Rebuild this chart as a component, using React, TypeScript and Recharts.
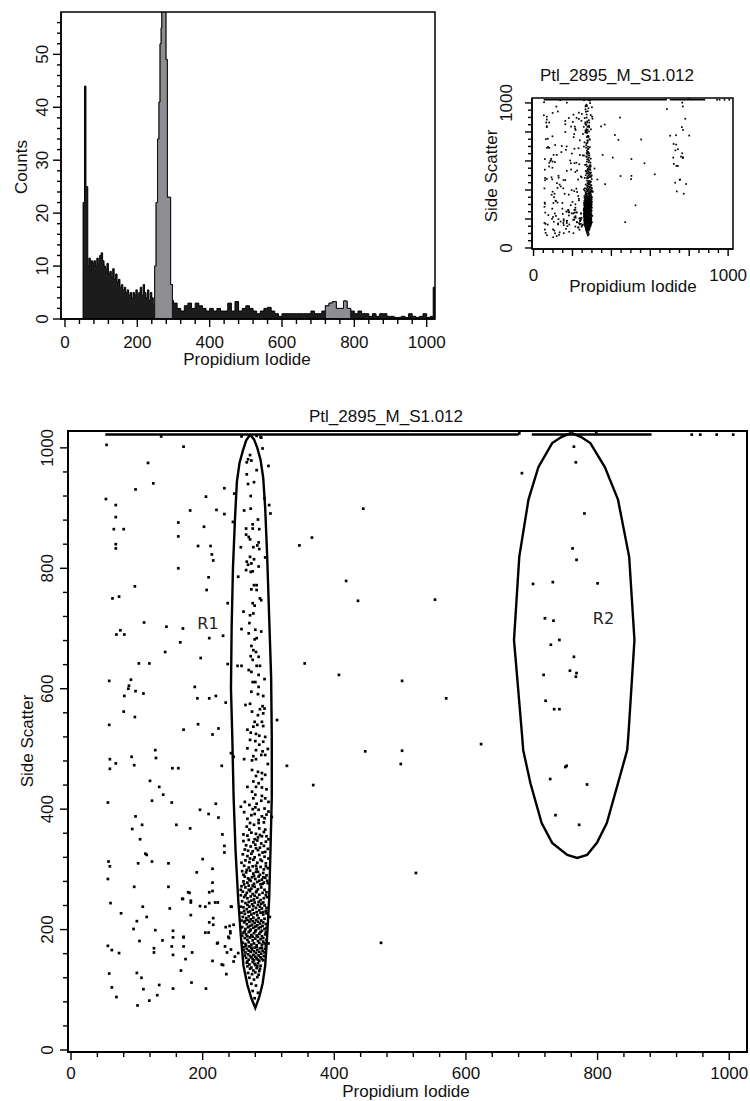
import React from 'react'
import {
  ComposedChart,
  Area,
  ScatterChart,
  Scatter,
  XAxis,
  YAxis,
  ReferenceArea,
  ReferenceLine,
  Label
} from 'recharts'

// ---------- histogram: Counts vs Propidium Iodide ----------
// bin start channel (step histogram, each bin runs to the next start)
const histBinStart = [
  0, 50, 54, 58, 63, 66, 70, 73, 76, 80,
  84, 88, 92, 96, 100, 104, 108, 112, 116, 120,
  124, 128, 132, 136, 140, 144, 148, 152, 156, 160,
  164, 168, 172, 176, 180, 184, 188, 192, 196, 200,
  204, 208, 212, 216, 220, 224, 228, 232, 236, 240,
  244, 248, 252, 256, 260, 263, 266, 268, 279, 283,
  292, 297, 300, 310, 320, 330, 340, 350, 360, 370,
  380, 390, 400, 410, 420, 430, 440, 450, 460, 470,
  480, 490, 500, 510, 520, 530, 540, 550, 560, 570,
  580, 590, 600, 610, 620, 630, 640, 650, 660, 670,
  680, 690, 700, 710, 720, 730, 740, 750, 760, 770,
  780, 790, 800, 810, 820, 830, 840, 850, 860, 870,
  880, 890, 900, 910, 920, 930, 940, 950, 960, 970,
  980, 990, 1000, 1010, 1018, 1023
]
const histCounts = [
  0, 22, 44, 25, 10, 11.5, 9, 11, 10.5, 11,
  10, 11.5, 10.5, 12, 12.5, 11, 10, 9.5, 10.5, 8.5,
  9, 8, 9.5, 7.5, 8.5, 7, 7.5, 6, 6.5, 5.5,
  6, 5, 5.5, 4.5, 5, 4, 5, 4.5, 5.5, 4.5,
  5, 6, 4.5, 6.5, 5, 4, 5.5, 3.5, 5, 4,
  2.5, 10, 22, 34, 41, 52, 55, 64, 49, 23,
  6.5, 3.5, 3, 2, 1.5, 2.5, 3, 2, 3, 2.5,
  2, 1.5, 2, 1.5, 2, 1.5, 1.5, 3, 1.5, 3.3,
  1.5, 2, 2.5, 2, 1.5, 1, 1.5, 2, 2.2, 1.5,
  1, 0.5, 1, 1, 1, 1, 1, 1, 1, 1,
  1.5, 1, 1, 1.5, 2.5, 3, 3.3, 2, 2, 3.4,
  2, 1.5, 1, 1.5, 1, 1, 0.5, 1, 0.5, 1,
  1, 0.5, 0.5, 0.3, 0.3, 0.5, 0.3, 1, 0.5, 0.3,
  0.5, 1, 0.3, 0.5, 6, 0
]
// gated regions (R1, R2) shown grey in the histogram
const histGates: [number, number][] = [[248, 297], [720, 790]]

const histXTicks = Array.from({ length: 26 }, (_, i) => i * 40)
const histYTicks = Array.from({ length: 29 }, (_, i) => i * 2)
const histXLabels = [0, 200, 400, 600, 800, 1000]
const histYLabels = [0, 10, 20, 30, 40, 50]

// ---------- scatter: Side Scatter vs Propidium Iodide ----------
const leftEvents: [number, number][] = [
  [54, 1005], [137, 1019], [171, 1002], [117, 975], [125, 941], [98, 931], [53, 915], [68, 905],
  [68, 885], [65, 865], [80, 865], [68, 840], [68, 833], [163, 876], [163, 853], [163, 800],
  [181, 896], [202, 869], [205, 919], [221, 897], [233, 890], [233, 933], [248, 924], [246, 877],
  [193, 837], [212, 837], [214, 823], [216, 813], [209, 785], [206, 764], [238, 742], [97, 770],
  [63, 750], [73, 753], [111, 710], [145, 703], [170, 700], [69, 690], [75, 697], [81, 690],
  [210, 684], [231, 688], [166, 677], [143, 661], [103, 642], [119, 642], [197, 651], [238, 641],
  [58, 613], [91, 615], [88, 605], [87, 600], [81, 588], [98, 596], [110, 592], [188, 603],
  [192, 584], [210, 584], [220, 588], [235, 577], [58, 540], [80, 562], [97, 553], [171, 532],
  [193, 541], [215, 524], [224, 534], [229, 472], [196, 399], [209, 392], [224, 386], [220, 409],
  [181, 368], [230, 358], [233, 339], [233, 328], [200, 317], [191, 295], [215, 301], [215, 278],
  [178, 262], [170, 251], [182, 248], [210, 262], [219, 245], [204, 238], [244, 238], [182, 224],
  [216, 208], [235, 204], [247, 208], [242, 194], [209, 195], [222, 177], [240, 186], [171, 188],
  [171, 172], [234, 172], [59, 483], [59, 467], [68, 476], [92, 487], [96, 473], [128, 498],
  [129, 485], [154, 468], [163, 468], [243, 493], [247, 487], [120, 447], [134, 437], [140, 424],
  [56, 411], [123, 414], [153, 411], [98, 388], [93, 367], [108, 374], [105, 350], [160, 374],
  [113, 326], [123, 313], [102, 310], [115, 324], [57, 313], [59, 305], [56, 284], [148, 310],
  [96, 271], [148, 271], [60, 244], [76, 227], [95, 201], [100, 214], [109, 238], [115, 221],
  [104, 181], [128, 199], [126, 169], [126, 162], [139, 182], [150, 235], [155, 198], [155, 187],
  [153, 172], [155, 158], [169, 251], [171, 187], [174, 151], [180, 261], [182, 245], [184, 162],
  [183, 112], [196, 239], [204, 195], [210, 212], [210, 244], [215, 264], [216, 219], [223, 178],
  [223, 245], [215, 148], [231, 141], [236, 126], [241, 206], [242, 197], [239, 188], [56, 173],
  [62, 166], [73, 161], [58, 127], [62, 104], [69, 88], [100, 128], [107, 120], [110, 101],
  [101, 74], [119, 82], [131, 91], [134, 108], [155, 102], [167, 132], [205, 102], [229, 142],
  [237, 162], [243, 167], [249, 155], [254, 161], [247, 147], [243, 238]
]
const rightEvents: [number, number][] = [
  [289, 1017], [291, 999], [300, 970], [294, 916], [301, 905], [303, 891], [295, 818], [313, 548],
  [347, 838], [366, 851], [444, 899], [418, 779], [436, 746], [355, 642], [407, 623], [328, 472],
  [305, 387], [302, 221], [368, 440], [447, 496], [300, 177], [553, 748], [503, 613], [570, 584],
  [623, 508], [503, 497], [501, 475], [524, 294], [471, 178], [681, 1024], [798, 1026], [685, 958],
  [943, 1022], [956, 1022], [981, 1022], [1006, 1022]
]
const r2Events: [number, number][] = [
  [764, 1002], [767, 976], [780, 891], [762, 833], [768, 814], [702, 774], [732, 777], [800, 775],
  [720, 717], [733, 713], [742, 681], [729, 673], [764, 653], [758, 630], [768, 626], [767, 620],
  [718, 623], [721, 580], [734, 566], [742, 566], [751, 470], [753, 472], [728, 450], [784, 441],
  [736, 390], [772, 374]
]
const r1Upper: [number, number][] = [
  [259, 1019], [282, 1020], [288, 1018], [272, 988], [269, 981], [267, 976], [274, 979], [282, 963],
  [267, 956], [269, 940], [278, 943], [273, 920], [263, 896], [273, 899], [284, 881], [276, 873],
  [276, 866], [266, 866], [286, 865], [266, 856], [270, 852], [272, 848], [285, 843], [283, 838],
  [277, 835], [258, 835], [286, 832], [272, 819], [267, 811], [274, 808], [269, 806], [285, 803],
  [278, 815], [266, 797], [273, 794], [276, 795], [254, 786], [278, 772], [282, 772], [274, 765],
  [282, 764], [287, 750], [289, 747], [276, 742], [279, 738], [262, 728], [272, 722], [277, 725],
  [271, 709], [259, 699], [270, 692], [280, 698], [289, 695], [279, 682], [282, 684], [274, 671],
  [277, 664], [281, 661], [273, 654], [276, 648], [285, 653], [253, 638], [259, 638], [282, 638],
  [287, 638], [270, 631], [274, 628], [285, 623], [294, 616], [276, 611], [280, 611], [285, 603],
  [274, 595], [284, 591], [292, 588], [265, 573], [272, 575], [291, 571], [294, 567], [275, 562],
  [284, 556], [292, 559], [287, 566], [279, 545], [290, 545], [283, 540], [277, 537], [292, 538],
  [268, 532], [273, 527], [281, 525], [286, 522], [295, 520], [272, 515], [280, 513], [292, 512],
  [286, 507], [268, 501], [281, 498], [291, 496], [299, 500], [277, 488], [289, 490], [295, 490],
  [275, 481], [281, 483], [299, 475], [263, 483], [275, 465], [284, 462], [290, 460], [281, 455],
  [290, 450], [295, 457], [277, 446], [285, 443], [281, 437], [290, 436], [297, 433], [268, 437],
  [275, 429], [280, 424], [290, 422], [295, 418], [277, 418], [300, 412], [271, 407], [280, 403],
  [285, 399], [294, 401], [300, 396], [274, 390], [279, 392], [290, 388], [285, 382], [294, 385],
  [272, 377], [278, 374], [285, 377], [293, 378], [267, 371], [286, 368], [295, 366], [274, 361],
  [281, 359], [290, 355], [297, 355], [264, 412], [289, 414], [258, 404], [282, 409], [297, 391],
  [268, 384], [263, 395], [276, 400], [271, 366], [262, 358], [284, 353], [293, 362], [268, 356],
  [279, 350], [287, 357], [300, 350]
]
const r1Core: [number, number][] = [
  [262, 347], [270, 349], [277, 345], [283, 348], [289, 343], [296, 346], [266, 340], [273, 338],
  [280, 341], [287, 336], [293, 339], [299, 334], [269, 331], [276, 330], [284, 332], [291, 328],
  [261, 325], [268, 322], [274, 326], [279, 320], [286, 324], [294, 321], [300, 318], [265, 315],
  [271, 312], [277, 316], [283, 311], [290, 314], [296, 310], [263, 306], [270, 303], [276, 305],
  [282, 301], [288, 304], [293, 300], [299, 302], [260, 297], [266, 295], [272, 298], [277, 293],
  [281, 296], [287, 291], [292, 294], [297, 290], [264, 288], [269, 285], [275, 287], [280, 284],
  [285, 288], [290, 283], [295, 286], [262, 280], [268, 278], [273, 281], [278, 276], [283, 279],
  [288, 275], [293, 278], [298, 281], [259, 272], [265, 270], [270, 273], [274, 268], [279, 271],
  [284, 267], [289, 270], [294, 266], [261, 263], [267, 261], [272, 264], [276, 259], [281, 262],
  [286, 258], [291, 261], [296, 257], [263, 254], [268, 252], [273, 255], [278, 250], [283, 253],
  [288, 249], [293, 252], [298, 254], [260, 247], [265, 244], [270, 246], [275, 242], [279, 245],
  [284, 241], [289, 243], [294, 240], [262, 237], [267, 234], [271, 238], [276, 233], [281, 236],
  [286, 232], [290, 235], [296, 231], [259, 228], [264, 226], [269, 229], [274, 225], [278, 227],
  [283, 224], [288, 228], [292, 225], [297, 227], [261, 221], [266, 219], [270, 222], [273, 217],
  [277, 220], [281, 216], [285, 219], [289, 215], [294, 218], [263, 212], [267, 209], [271, 213],
  [275, 208], [279, 211], [283, 207], [287, 210], [291, 206], [296, 209], [260, 204], [265, 201],
  [269, 204], [273, 200], [277, 203], [281, 199], [285, 202], [290, 198], [294, 201], [262, 195],
  [266, 192], [270, 196], [274, 191], [278, 194], [282, 190], [286, 193], [290, 189], [295, 192],
  [264, 186], [268, 183], [272, 187], [276, 182], [280, 185], [284, 181], [288, 184], [292, 180],
  [297, 183], [261, 178], [265, 176], [270, 179], [274, 175], [278, 177], [282, 174], [286, 178],
  [290, 175], [294, 177], [263, 171], [267, 168], [271, 172], [275, 167], [279, 170], [283, 166],
  [287, 169], [291, 165], [295, 168], [265, 162], [269, 159], [273, 163], [277, 158], [281, 161],
  [285, 157], [289, 160], [293, 156], [266, 153], [270, 150], [274, 154], [278, 149], [282, 152],
  [286, 148], [290, 151], [267, 145], [271, 142], [276, 146], [280, 141], [284, 144], [288, 140],
  [272, 135], [277, 132], [282, 136], [286, 131], [269, 128], [275, 126], [280, 129], [285, 125],
  [271, 120], [278, 117], [283, 121], [274, 110], [281, 107], [276, 98], [284, 95], [279, 86],
  [258, 238], [263, 231], [268, 241], [272, 230], [277, 239], [282, 229], [287, 238], [292, 229],
  [297, 236], [259, 215], [264, 214], [268, 216], [272, 206], [276, 214], [280, 205], [284, 213],
  [288, 204], [292, 212], [297, 203], [260, 190], [264, 197], [268, 189], [272, 198], [276, 188],
  [280, 197], [284, 188], [288, 196], [292, 186], [296, 196], [262, 166], [266, 173], [270, 165],
  [274, 170], [278, 164], [282, 171], [286, 163], [290, 170], [294, 162], [296, 173], [264, 157],
  [268, 147], [272, 156], [276, 151], [280, 155], [284, 150], [288, 154], [292, 149], [268, 139],
  [274, 137], [279, 143], [283, 139], [287, 135], [264, 333], [281, 335], [295, 329], [272, 318],
  [288, 316], [259, 311], [281, 306], [296, 305], [267, 299], [284, 296], [262, 291], [278, 289],
  [292, 287], [271, 283], [286, 281], [299, 277], [263, 275], [276, 273], [291, 276], [258, 266],
  [270, 266], [282, 264], [297, 262], [265, 257], [279, 256], [292, 245], [258, 257], [274, 248],
  [285, 246]
]
// saturated events piled on the top channel
const topBandRuns: [number, number][] = [[52, 680], [700, 882]]
const topBandLevel = 1022

// gate outlines (polygon vertices)
const r1Gate: [number, number][] = [
  [272, 1022], [278, 1014], [283, 1000], [288, 980], [292, 950], [295, 900], [298, 820], [301, 720],
  [304, 620], [305, 520], [305, 420], [303, 330], [301, 250], [298, 190], [295, 140], [291, 110],
  [286, 88], [280, 70], [274, 86], [268, 108], [262, 140], [258, 190], [254, 250], [250, 330],
  [247, 420], [245, 520], [243, 600], [244, 700], [246, 800], [249, 880], [252, 944], [256, 975],
  [261, 995], [266, 1012], [272, 1022]
]
const r2Gate: [number, number][] = [
  [760, 1025], [775, 1018], [789, 1008], [811, 968], [831, 914], [848, 819], [856, 681], [847, 526],
  [845, 498], [831, 443], [814, 377], [799, 344], [784, 324], [769, 319], [754, 324], [731, 344],
  [715, 377], [698, 443], [687, 498], [685, 526], [673, 681], [681, 819], [695, 914], [710, 968],
  [731, 1008], [745, 1018], [760, 1025]
]
const gateNames = ['R1', 'R2']
const gateLabelPos: [number, number][] = [[208, 709], [809, 717]]

const bigTicks = Array.from({ length: 26 }, (_, i) => i * 40)
const smallTicks = Array.from({ length: 21 }, (_, i) => i * 50)
const hundredsLabels = [0, 200, 400, 600, 800, 1000]
const endLabels = [0, 1000]
const fileName = 'Ptl_2895_M_S1.012'

const txt = {
  fontFamily: '"Liberation Sans", Arial, Helvetica, sans-serif',
  fontSize: 17,
  fill: '#111'
}

const toXY = (arr: [number, number][]) => arr.map(([x, y]) => ({ x, y }))
const allEvents = toXY([...leftEvents, ...rightEvents, ...r2Events, ...r1Upper, ...r1Core])

type TickStyle = { labels: number[]; majors: number[]; majorLen: number; minorLen: number; gap: number }

const bottomTick = (s: TickStyle) => (p: any) => {
  const v = p.payload.value
  const len = s.majors.includes(v) ? s.majorLen : s.minorLen
  return (
    <g>
      <line x1={p.x} y1={p.y} x2={p.x} y2={p.y + len} stroke="#000" strokeWidth={1.4} />
      {s.labels.includes(v) && (
        <text x={p.x} y={p.y + s.gap} textAnchor="middle" style={txt}>{v}</text>
      )}
    </g>
  )
}

const leftTick = (s: TickStyle) => (p: any) => {
  const v = p.payload.value
  const len = s.majors.includes(v) ? s.majorLen : s.minorLen
  return (
    <g>
      <line x1={p.x - len} y1={p.y} x2={p.x} y2={p.y} stroke="#000" strokeWidth={1.4} />
      {s.labels.includes(v) && (
        <text transform={`translate(${p.x - s.gap} ${p.y}) rotate(-90)`} textAnchor="middle" style={txt}>
          {v}
        </text>
      )}
    </g>
  )
}

// fixed-position titles rendered through Label content
const hTitle = (text: string, x: number, y: number) => () => (
  <text x={x} y={y} textAnchor="middle" style={txt}>{text}</text>
)
const vTitle = (text: string, x: number, y: number) => () => (
  <text transform={`translate(${x} ${y}) rotate(-90)`} textAnchor="middle" style={txt}>{text}</text>
)

const dot = (size: number) => (p: any) => (
  <rect x={p.cx - size / 2} y={p.cy - size / 2} width={size} height={size} fill="#000" />
)
const noShape = () => <g />
const gateText = (p: any) => (
  <text
    x={p.cx}
    y={p.cy + 6}
    textAnchor="middle"
    style={{ fontFamily: '"DejaVu Sans", sans-serif', fontSize: 16, fill: '#222' }}
  >
    {p.payload.name}
  </text>
)

const Histogram = () => {
  const data = histBinStart.map((x, i) => ({
    x,
    count: histCounts[i],
    gated: histGates.some(([a, b]) => x >= a && x < b) ? histCounts[i] : 0
  }))
  return (
    <ComposedChart width={450} height={375} data={data} margin={{ top: 12, right: 15, bottom: 0, left: 0 }}>
      <XAxis
        type="number"
        dataKey="x"
        domain={[-11, 1023]}
        allowDataOverflow
        ticks={histXTicks}
        interval={0}
        tickSize={0}
        tickMargin={0}
        tickLine={false}
        axisLine={{ stroke: '#000', strokeWidth: 1.5 }}
        tick={bottomTick({ labels: histXLabels, majors: histXLabels, majorLen: 8, minorLen: 5, gap: 29 })}
        height={56}
      >
        <Label content={hTitle('Propidium Iodide', 247, 365)} />
      </XAxis>
      <YAxis
        type="number"
        domain={[0, 58]}
        allowDataOverflow
        ticks={histYTicks}
        interval={0}
        tickSize={0}
        tickMargin={0}
        tickLine={false}
        axisLine={{ stroke: '#000', strokeWidth: 1.5 }}
        tick={leftTick({ labels: histYLabels, majors: histYLabels, majorLen: 8, minorLen: 4, gap: 13 })}
        width={61}
      >
        <Label content={vTitle('Counts', 27, 167)} />
      </YAxis>
      <Area
        type="stepAfter"
        dataKey="count"
        stroke="#000"
        strokeWidth={1}
        fill="#1c1c1c"
        fillOpacity={1}
        isAnimationActive={false}
      />
      <Area
        type="stepAfter"
        dataKey="gated"
        stroke="#111"
        strokeWidth={1}
        fill="#8f8c92"
        fillOpacity={1}
        isAnimationActive={false}
      />
      <ReferenceArea x1={-11} x2={1023} y1={0} y2={58} fill="none" stroke="#000" strokeWidth={1.5} />
    </ComposedChart>
  )
}

const SmallScatter = () => (
  <ScatterChart width={280} height={250} margin={{ top: 43, right: 17, bottom: 0, left: 0 }}>
    <XAxis
      type="number"
      dataKey="x"
      domain={[-8, 1025]}
      allowDataOverflow
      ticks={smallTicks}
      interval={0}
      tickSize={0}
      tickMargin={0}
      tickLine={false}
      axisLine={{ stroke: '#000', strokeWidth: 1.5 }}
      tick={bottomTick({ labels: endLabels, majors: hundredsLabels, majorLen: 7, minorLen: 4, gap: 32 })}
      height={56}
    >
      <Label content={hTitle('Propidium Iodide', 163, 237)} />
    </XAxis>
    <YAxis
      type="number"
      dataKey="y"
      domain={[-7, 1034]}
      allowDataOverflow
      ticks={smallTicks}
      interval={0}
      tickSize={0}
      tickMargin={0}
      tickLine={false}
      axisLine={{ stroke: '#000', strokeWidth: 1.5 }}
      tick={leftTick({ labels: endLabels, majors: hundredsLabels, majorLen: 7, minorLen: 4, gap: 20 })}
      width={62}
    >
      <Label content={vTitle('Side Scatter', 27, 121)} />
    </YAxis>
    <ReferenceArea x1={-8} x2={1025} y1={-7} y2={1034} fill="none" stroke="#000" strokeWidth={1.5}>
      <Label content={hTitle(fileName, 147, 26)} />
    </ReferenceArea>
    {topBandRuns.map(([a, b]) => (
      <ReferenceLine
        key={a}
        segment={[{ x: a, y: topBandLevel }, { x: b, y: topBandLevel }]}
        stroke="#000"
        strokeWidth={1.5}
      />
    ))}
    <Scatter data={allEvents} shape={dot(1.7)} isAnimationActive={false} />
  </ScatterChart>
)

const BigScatter = () => (
  <ScatterChart width={750} height={706} margin={{ top: 36, right: 3, bottom: 0, left: 0 }}>
    <XAxis
      type="number"
      dataKey="x"
      domain={[-4.6, 1027]}
      allowDataOverflow
      ticks={bigTicks}
      interval={0}
      tickSize={0}
      tickMargin={0}
      tickLine={false}
      axisLine={{ stroke: '#000', strokeWidth: 2 }}
      tick={bottomTick({ labels: hundredsLabels, majors: hundredsLabels, majorLen: 8, minorLen: 5, gap: 27 })}
      height={49}
    >
      <Label content={hTitle('Propidium Iodide', 406, 702)} />
    </XAxis>
    <YAxis
      type="number"
      dataKey="y"
      domain={[-3.3, 1028]}
      allowDataOverflow
      ticks={bigTicks}
      interval={0}
      tickSize={0}
      tickMargin={0}
      tickLine={false}
      axisLine={{ stroke: '#000', strokeWidth: 2 }}
      tick={leftTick({ labels: hundredsLabels, majors: hundredsLabels, majorLen: 8, minorLen: 5, gap: 15 })}
      width={68}
    >
      <Label content={vTitle('Side Scatter', 33, 346)} />
    </YAxis>
    <ReferenceArea x1={-4.6} x2={1027} y1={-3.3} y2={1028} fill="none" stroke="#000" strokeWidth={2}>
      <Label content={hTitle(fileName, 386, 27)} />
    </ReferenceArea>
    {topBandRuns.map(([a, b]) => (
      <ReferenceLine
        key={a}
        segment={[{ x: a, y: topBandLevel }, { x: b, y: topBandLevel }]}
        stroke="#000"
        strokeWidth={2.5}
      />
    ))}
    <Scatter data={allEvents} shape={dot(2.7)} isAnimationActive={false} />
    <Scatter
      data={toXY(r1Gate)}
      line={{ stroke: '#000', strokeWidth: 2.4 }}
      shape={noShape}
      isAnimationActive={false}
    />
    <Scatter
      data={toXY(r2Gate)}
      line={{ stroke: '#000', strokeWidth: 2.4 }}
      shape={noShape}
      isAnimationActive={false}
    />
    <Scatter
      data={gateLabelPos.map(([x, y], i) => ({ x, y, name: gateNames[i] }))}
      shape={gateText}
      isAnimationActive={false}
    />
  </ScatterChart>
)

export default function App() {
  return (
    <div style={{ position: 'absolute', left: 0, top: 0, width: 750, height: 1101, background: '#fff' }}>
      <div style={{ position: 'absolute', left: 0, top: 0 }}>
        <Histogram />
      </div>
      <div style={{ position: 'absolute', left: 470, top: 55 }}>
        <SmallScatter />
      </div>
      <div style={{ position: 'absolute', left: 0, top: 395 }}>
        <BigScatter />
      </div>
    </div>
  )
}
